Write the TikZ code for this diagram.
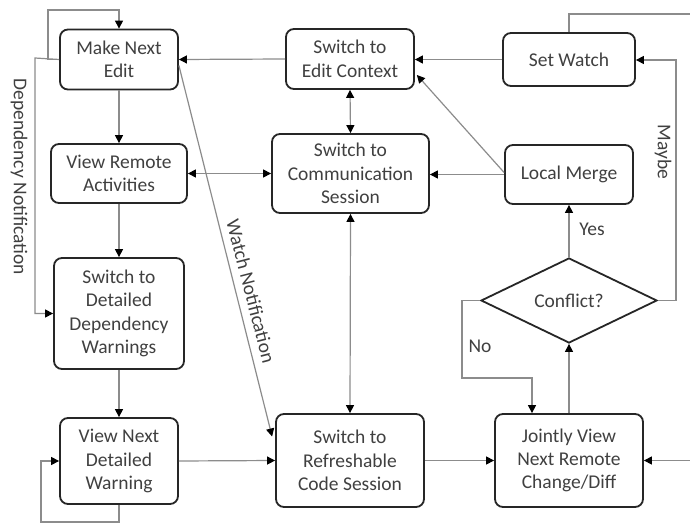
\documentclass[tikz,border=0pt]{standalone}
\usepackage{fontspec}
\setmainfont{Carlito}
\usetikzlibrary{arrows.meta,shapes.geometric,calc}
\definecolor{txt}{RGB}{64,64,64}
\definecolor{conn}{RGB}{140,140,140}
\begin{document}
\begin{tikzpicture}[x=1pt,y=-1pt,
  every node/.style={font=\fontsize{19.5}{23.4}\selectfont,text=txt},
  box/.style={draw=black!85,line width=1.8pt,rounded corners=8pt,align=center,inner sep=0pt},
  dia/.style={draw=black!85,line width=1.8pt,diamond,inner sep=0pt},
  tip/.style={-{Triangle[length=8pt,width=8pt,color=black]}},
  dtip/.style={{Triangle[length=8pt,width=8pt,color=black]}-{Triangle[length=8pt,width=8pt,color=black]}},
  cline/.style={draw=conn,line width=1.2pt},
  lbl/.style={inner sep=0pt}]
\useasboundingbox[fill=white] (0,0) rectangle (690,526);
% nodes
\node[box,minimum width=118pt,minimum height=60pt] (mne) at (119,59.5) {Make Next\\Edit};
\node[box,minimum width=128pt,minimum height=60pt] (ec) at (350,59) {Switch to\\Edit Context};
\node[box,minimum width=132pt,minimum height=53pt] (sw) at (569,59.5) {Set Watch};
\node[box,minimum width=136pt,minimum height=59pt] (vra) at (119,173.5) {View Remote\\Activities};
\node[box,minimum width=130pt,minimum height=111pt] (sdw) at (119,313.5) {Switch to\\Detailed\\Dependency\\Warnings};
\node[box,minimum width=157pt,minimum height=79pt] (cs) at (350.5,173.5) {Switch to\\Communication\\Session};
\node[box,minimum width=128pt,minimum height=59pt] (lm) at (569,174.5) {Local Merge};
\node[dia,minimum width=176pt,minimum height=85pt] (cf) at (569,300.5) {Conflict?};
\node[box,minimum width=118pt,minimum height=86pt] (vnd) at (119,461) {View Next\\Detailed\\Warning};
\node[box,minimum width=148pt,minimum height=93pt] (rcs) at (350,460.5) {Switch to\\Refreshable\\Code Session};
\node[box,minimum width=148pt,minimum height=93pt] (jv) at (569,460.5) {Jointly View\\Next Remote\\Change/Diff};
% helper coordinates
\coordinate (loopA) at (48,10);
\coordinate (depL) at (35,58);
\coordinate (vndL) at (41,522);
\coordinate (noA) at (462,378);
\coordinate (noB) at (532,378);
\coordinate (myR) at (676,60);
\coordinate (swT) at (690,14);
\coordinate (jvR) at (690,460.5);
% connectors
\draw[cline,tip] (mne.west) -| (loopA) -| (mne.north);
\draw[cline,tip] (mne.west) -- (depL) |- (sdw.west);
\draw[cline,tip] (mne.south) -- (vra.north);
\draw[cline,tip] (vra.south) -- (sdw.north);
\draw[cline,tip] (sdw.south) -- (vnd.north);
\draw[cline,tip] (vnd.south) |- (vndL) |- (vnd.west);
\draw[cline,tip] (vnd.east) -- (rcs.west);
\draw[cline,tip] ($(mne.east)+(0,6)$) -- ($(rcs.west)+(-3,-24)$);
\draw[cline,tip] (ec.west) -- (mne.east);
\draw[cline,tip] (sw.west) -- (sw.west -| ec.east);
\draw[cline,tip] ($(lm.west)+(0,-2)$) -- ($(ec.east)+(2,16)$);
\draw[cline,tip] (lm.west) -- (lm.west -| cs.east);
\draw[cline,dtip] (ec.south) -- (cs.north);
\draw[cline,dtip] (vra.east) -- (vra.east -| cs.west);
\draw[cline,dtip] (cs.south) -- (rcs.north);
\draw[cline,tip] (rcs.east) -- (jv.west);
\draw[cline,tip] (jvR) -- (jv.east);
\draw[cline,tip] (jv.north) -- (cf.south);
\draw[cline,tip] (cf.north) -- (lm.south);
\draw[cline,tip] (cf.west) -| (noA) -- (noB) -- (noB |- jv.north);
\draw[cline,tip] (cf.east) -| (myR) -- (myR -| sw.east);
\draw[cline] (sw.north) |- (swT);
% labels
\node[lbl,rotate=-90] (depLbl) at (19,177) {Dependency Notification};
\node[lbl,rotate=-75.5] (watchLbl) at (251,291) {Watch Notification};
\node[lbl] (yesLbl) at (592,229) {Yes};
\node[lbl] (noLbl) at (480,346) {No};
\node[lbl,rotate=-90] (maybeLbl) at (663,152) {Maybe};
\end{tikzpicture}
\end{document}
